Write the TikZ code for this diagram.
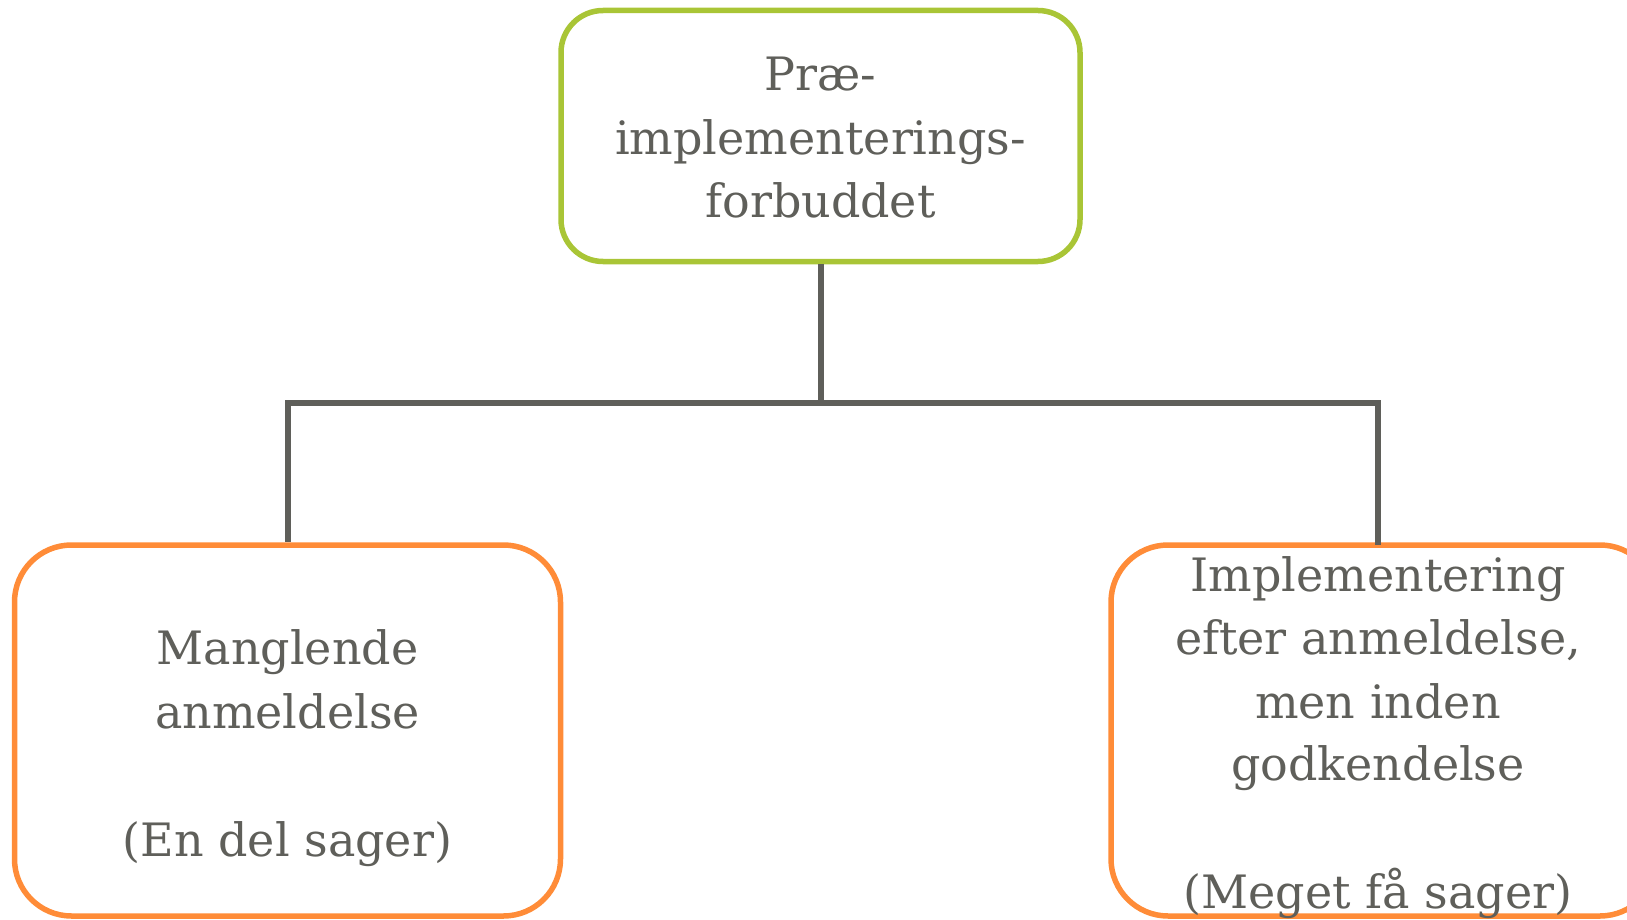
\documentclass[tikz,border=0pt]{standalone}
\usepackage{fontspec}
\setmainfont{DejaVu Serif}
\definecolor{boxgreen}{HTML}{A9C536}
\definecolor{boxorange}{HTML}{FF8C38}
\definecolor{inkgray}{HTML}{5F5F5A}
\begin{document}
\begin{tikzpicture}[x=1pt,y=-1pt,
  box/.style={draw, rounded corners=#1, line width=5.5pt, fill=white, inner sep=0pt},
  lbl/.style={anchor=base, text=inkgray, inner sep=0pt, font=\fontsize{46}{60}\selectfont},
  link/.style={draw=inkgray, line width=6pt}]
\useasboundingbox (0,0) rectangle (1627,920);
\begin{scope}
\clip (0,0) rectangle (1627,920);
% boxes
\node[box=42pt, draw=boxgreen, minimum width=519pt, minimum height=251pt] (top) at (820.5,136) {};
\node[box=57pt, draw=boxorange, minimum width=546pt, minimum height=371pt] (left) at (287.5,730.5) {};
\node[box=57pt, draw=boxorange, minimum width=546pt, minimum height=371pt] (right) at (1384,730.5) {};
% connectors
\coordinate (mid) at (820.5,402.5);
\coordinate (lj) at (287.5,402.5);
\coordinate (rj) at (1378,402.5);
\coordinate (rjb) at (1378,545);
\draw[link] (top.south) -- (mid);
\draw[link, line cap=rect] (lj) -- (rj);
\draw[link] (lj) -- (left.north);
\draw[link] (rj) -- (rjb);
% texts
\node[lbl] (t1) at (820.5,91) {Præ-};
\node[lbl] (t2) at (820.5,155) {implementerings-};
\node[lbl] (t3) at (820.5,218) {forbuddet};
\node[lbl] (l1) at (287.5,664) {Manglende};
\node[lbl] (l2) at (287.5,728) {anmeldelse};
\node[lbl] (l3) at (287.5,856) {(En del sager)};
\node[lbl] (r1) at (1378,591) {Implementering};
\node[lbl] (r2) at (1378,654) {efter anmeldelse,};
\node[lbl] (r3) at (1378,718) {men inden};
\node[lbl] (r4) at (1378,780) {godkendelse};
\node[lbl] (r5) at (1378,908) {(Meget få sager)};
\end{scope}
\end{tikzpicture}
\end{document}
